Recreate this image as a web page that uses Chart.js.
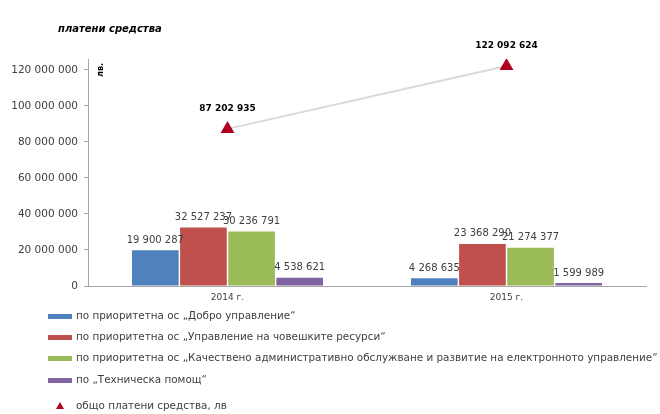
<!DOCTYPE html>
<html>
<head>
<meta charset="utf-8">
<script src="https://cdn.jsdelivr.net/npm/chart.js@4/dist/chart.umd.min.js"></script>
<style>
  html, body { margin: 0; padding: 0; background: #fff; }
  #wrap { width: 660px; height: 414px; position: relative; }
</style>
</head>
<body>
<div id="wrap"><canvas id="paidchart"></canvas></div>
<script>
// years on the x axis
var years = ["2014 г.", "2015 г."];

// paid amounts per priority axis, лв.
var goodGov = [19900287, 4268635];
var humanRes = [32527237, 23368290];
var adminServ = [30236791, 21274377];
var techHelp = [4538621, 1599989];
var totalPaid = [87202935, 122092624];

var seriesNames = [
  "по приоритетна ос „Добро управление“",
  "по приоритетна ос „Управление на човешките ресурси“",
  "по приоритетна ос „Качествено административно обслужване и развитие на електронното управление“",
  "по „Техническа помощ“",
  "общо платени средства, лв"
];

var yTicks = [0, 20000000, 40000000, 60000000, 80000000, 100000000, 120000000];

var fontName = "'DejaVu Sans', sans-serif";

// 19900287 -> "19 900 287"
function fmt(v) {
  return String(v).replace(/\B(?=(\d{3})+(?!\d))/g, " ");
}

// value labels, title, unit and the stacked legend at the bottom
var decorations = {
  id: "decorations",
  afterDatasetsDraw: function(chart) {
    var ctx = chart.ctx;
    ctx.save();
    ctx.textAlign = "center";
    ctx.textBaseline = "middle";
    // bar labels
    for (var d = 0; d < 4; d++) {
      var meta = chart.getDatasetMeta(d);
      meta.data.forEach(function(bar, i) {
        ctx.fillStyle = "#404040";
        ctx.font = "10px " + fontName;
        ctx.fillText(fmt(chart.data.datasets[d].data[i]), bar.x, bar.y - 10);
      });
    }
    // total labels
    var lm = chart.getDatasetMeta(4);
    lm.data.forEach(function(pt, i) {
      ctx.fillStyle = "#000";
      ctx.font = "bold 9px " + fontName;
      ctx.fillText(fmt(totalPaid[i]), pt.x, pt.y - 20);
    });
    ctx.restore();
  },
  afterDraw: function(chart) {
    var ctx = chart.ctx;
    ctx.save();
    // title
    ctx.fillStyle = "#000";
    ctx.font = "italic bold 10px " + fontName;
    ctx.textAlign = "left";
    ctx.textBaseline = "middle";
    ctx.fillText("платени средства", 58, 29);
    // unit, rotated
    ctx.translate(101, 70);
    ctx.rotate(-Math.PI / 2);
    ctx.font = "bold 8px " + fontName;
    ctx.textAlign = "center";
    ctx.fillText("лв.", 0, 0);
    ctx.restore();

    // legend
    ctx.save();
    var rows = [316, 337, 358, 380, 406];
    var cols = ["#4F81BD", "#C0504D", "#9BBB59", "#8064A2"];
    ctx.font = "10.4px " + fontName;
    ctx.textBaseline = "middle";
    ctx.textAlign = "left";
    for (var k = 0; k < 5; k++) {
      if (k < 4) {
        ctx.fillStyle = cols[k];
        ctx.fillRect(48, rows[k] - 2, 24, 5);
      } else {
        ctx.fillStyle = "#B00020";
        ctx.beginPath();
        ctx.moveTo(60, rows[k] - 4);
        ctx.lineTo(64, rows[k] + 3);
        ctx.lineTo(56, rows[k] + 3);
        ctx.closePath();
        ctx.fill();
      }
      ctx.fillStyle = "#404040";
      ctx.fillText(seriesNames[k], 76, rows[k]);
    }
    ctx.restore();
  }
};

var ctx = document.getElementById("paidchart").getContext("2d");
var paidchart = new Chart(ctx, {
  type: "bar",
  data: {
    labels: years,
    datasets: [
      { label: seriesNames[0], data: goodGov, backgroundColor: "#4F81BD", order: 2 },
      { label: seriesNames[1], data: humanRes, backgroundColor: "#C0504D", order: 2 },
      { label: seriesNames[2], data: adminServ, backgroundColor: "#9BBB59", order: 2 },
      { label: seriesNames[3], data: techHelp, backgroundColor: "#8064A2", order: 2 },
      {
        type: "line",
        label: seriesNames[4],
        data: totalPaid,
        borderColor: "#D9D9D9",
        borderWidth: 2,
        pointStyle: "triangle",
        pointRadius: 6,
        pointBackgroundColor: "#B00020",
        pointBorderColor: "#B00020",
        order: 1
      }
    ]
  },
  options: {
    responsive: true,
    maintainAspectRatio: false,
    animation: false,
    layout: { padding: { top: 59, bottom: 106, left: 0, right: 14 } },
    datasets: {
      bar: { categoryPercentage: 0.69, barPercentage: 0.97 }
    },
    plugins: {
      legend: { display: false },
      tooltip: { enabled: false }
    },
    scales: {
      x: {
        grid: { display: false, drawTicks: false },
        border: { color: "#A6A6A6" },
        ticks: { color: "#404040", font: { size: 9, family: fontName }, padding: 6 },
        afterFit: function(s) { s.height = 22; }
      },
      y: {
        min: 0,
        max: 126000000,
        border: { color: "#A6A6A6" },
        grid: { display: true, drawOnChartArea: false, tickLength: 4, color: "#A6A6A6" },
        afterBuildTicks: function(s) {
          s.ticks = yTicks.map(function(v) { return { value: v }; });
        },
        ticks: {
          color: "#404040",
          font: { size: 10.5, family: fontName },
          padding: 6,
          callback: function(v) { return fmt(v); }
        },
        afterFit: function(s) { s.width = 88; }
      }
    }
  },
  plugins: [decorations]
});
</script>
</body>
</html>
